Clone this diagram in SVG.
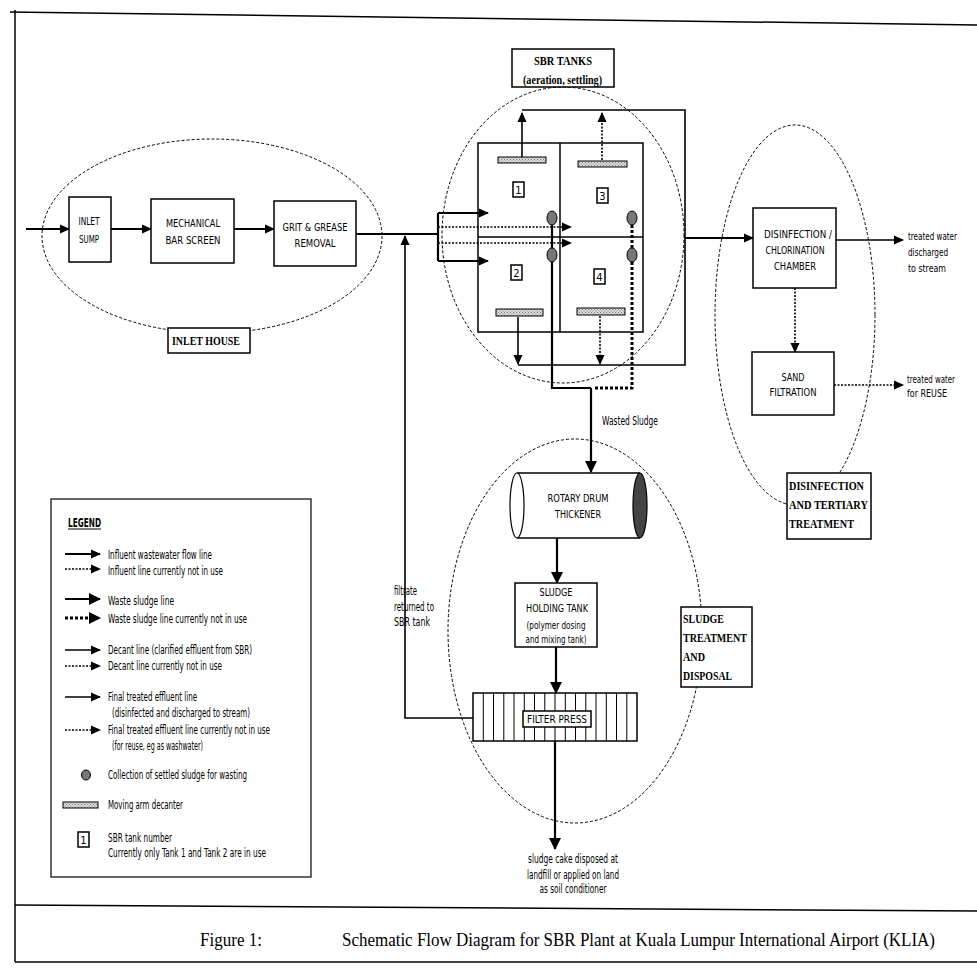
<svg xmlns="http://www.w3.org/2000/svg" width="977" height="980" viewBox="0 0 977 980">
<style>
.bg{fill:#fff}
.frame{fill:none;stroke:#000;stroke-width:1.5}
.box{fill:#fff;stroke:#000;stroke-width:1.5}
.zone{fill:none;stroke:#000;stroke-width:1;stroke-dasharray:3,2}
.s{font-family:"Liberation Sans Narrow","Arial Narrow","DejaVu Sans Condensed","Liberation Sans",sans-serif;font-stretch:condensed;font-size:11px;fill:#000}
.l{font-size:12px}
.r{font-size:10px}
.c{text-anchor:middle}
.b{font-family:"Liberation Serif","Times New Roman",serif;font-weight:bold;font-size:13px;fill:#000}
.cap{font-family:"Liberation Serif","Times New Roman",serif;font-size:18px;fill:#000}
.ln{fill:none;stroke:#000;stroke-width:1.6}
.th{fill:none;stroke:#000;stroke-width:2.2}
.dot{fill:none;stroke:#000;stroke-width:1.6;stroke-dasharray:2,1.5}
.dash{fill:none;stroke:#000;stroke-width:3;stroke-dasharray:3,2}
.dec{fill:url(#hatch);stroke:#000;stroke-width:1}
.col{fill:#777;stroke:#000;stroke-width:1}
</style>
<defs>
<marker id="a" markerUnits="userSpaceOnUse" markerWidth="10" markerHeight="10" refX="9" refY="5" orient="auto"><path d="M0,0.5 L10,5 L0,9.5 z" fill="#000"/></marker>
<marker id="ab" markerUnits="userSpaceOnUse" markerWidth="12" markerHeight="12" refX="11" refY="6" orient="auto"><path d="M0,0 L12,6 L0,12 z" fill="#000"/></marker>
<pattern id="hatch" width="3" height="3" patternUnits="userSpaceOnUse"><rect width="3" height="3" fill="#ddd"/><rect width="1" height="1" fill="#777"/><rect x="1.5" y="1.5" width="1" height="1" fill="#777"/></pattern>
</defs>
<rect class="bg" width="977" height="980"/>
<g id="frame">
<path class="frame" d="M10,12 L977,25"/>
<path class="frame" d="M15,10 L15,962"/>
<path class="frame" d="M15,905 L977,911"/>
<path class="frame" d="M15,962 L977,962"/>
</g>
<g id="zone-inlet">
<ellipse class="zone" cx="212" cy="236" rx="170" ry="97"/>
<rect class="box" x="168" y="328" width="82" height="25"/>
<text class="b" x="172" y="345" textLength="68" lengthAdjust="spacingAndGlyphs">INLET HOUSE</text>
</g>
<g id="zone-sbr">
<ellipse class="zone" cx="563" cy="235" rx="121" ry="148"/>
<rect class="box" x="512" y="49" width="102" height="38"/>
<text class="b" x="534" y="65" font-size="12" textLength="58" lengthAdjust="spacingAndGlyphs">SBR TANKS</text>
<text class="b" x="523" y="84" font-size="12" textLength="79" lengthAdjust="spacingAndGlyphs">(aeration, settling)</text>
</g>
<g id="zone-dis">
<ellipse class="zone" cx="795" cy="315" rx="80" ry="190"/>
<rect class="box" x="787" y="473" width="84" height="66"/>
<text class="b" x="789" y="490" textLength="75" lengthAdjust="spacingAndGlyphs">DISINFECTION</text>
<text class="b" x="789" y="509" textLength="79" lengthAdjust="spacingAndGlyphs">AND TERTIARY</text>
<text class="b" x="789" y="528" textLength="65" lengthAdjust="spacingAndGlyphs">TREATMENT</text>
</g>
<g id="zone-sludge">
<ellipse class="zone" cx="575" cy="631" rx="127" ry="192"/>
<rect class="box" x="681" y="607" width="71" height="80"/>
<text class="b" x="683" y="623" textLength="41" lengthAdjust="spacingAndGlyphs">SLUDGE</text>
<text class="b" x="683" y="642" textLength="64" lengthAdjust="spacingAndGlyphs">TREATMENT</text>
<text class="b" x="683" y="661" textLength="22" lengthAdjust="spacingAndGlyphs">AND</text>
<text class="b" x="683" y="680" textLength="49" lengthAdjust="spacingAndGlyphs">DISPOSAL</text>
</g>
<g id="connectors">
<line class="th" x1="26" y1="229" x2="69" y2="229" marker-end="url(#a)"/>
<line class="th" x1="111" y1="229" x2="151" y2="229" marker-end="url(#a)"/>
<line class="th" x1="234" y1="229" x2="274" y2="229" marker-end="url(#a)"/>
<line class="th" x1="356" y1="234" x2="438" y2="234"/>
<path class="th" d="M438,213 L438,261"/>
<line class="th" x1="438" y1="213" x2="488" y2="213" marker-end="url(#a)"/>
<line class="th" x1="438" y1="261" x2="488" y2="261" marker-end="url(#a)"/>
<line class="dot" x1="438" y1="227" x2="571" y2="227" marker-end="url(#a)"/>
<line class="dot" x1="438" y1="243" x2="571" y2="243" marker-end="url(#a)"/>
<path class="ln" d="M473,718 L405,718 L405,236" marker-end="url(#a)"/>
<line class="ln" x1="522" y1="157" x2="522" y2="113" marker-end="url(#a)"/>
<line class="dot" x1="602" y1="160" x2="602" y2="113" marker-end="url(#a)"/>
<path class="ln" d="M522,110 L685,110 L685,365 L518,365"/>
<line class="ln" x1="518" y1="317" x2="518" y2="364" marker-end="url(#a)"/>
<line class="dot" x1="600" y1="316" x2="600" y2="364" marker-end="url(#a)"/>
<line class="th" x1="685" y1="238" x2="753" y2="238" marker-end="url(#a)"/>
<line class="ln" x1="836" y1="240" x2="903" y2="240" marker-end="url(#a)"/>
<line class="dot" x1="795" y1="288" x2="795" y2="352" marker-end="url(#a)"/>
<line class="dot" x1="834" y1="385" x2="903" y2="385" marker-end="url(#a)"/>
<path class="th" d="M552,225 L552,248 M552,262 L552,388 L591,388"/>
<path class="dash" d="M632,225 L632,248 M632,262 L632,388 L593,388"/>
<line class="th" x1="591" y1="388" x2="591" y2="472" marker-end="url(#ab)"/>
<line class="th" x1="557" y1="538" x2="557" y2="583" marker-end="url(#ab)"/>
<line class="th" x1="556" y1="647" x2="556" y2="693" marker-end="url(#ab)"/>
<line class="th" x1="555" y1="741" x2="555" y2="849" marker-end="url(#ab)"/>
</g>
<g id="inlet-sump">
<rect class="box" x="69" y="197" width="42" height="65"/>
<text class="s c" x="89" y="225" textLength="21" lengthAdjust="spacingAndGlyphs">INLET</text>
<text class="s c" x="89" y="243" textLength="20" lengthAdjust="spacingAndGlyphs">SUMP</text>
</g>
<g id="bar-screen">
<rect class="box" x="151" y="199" width="83" height="64"/>
<text class="s c" x="193" y="227" textLength="54" lengthAdjust="spacingAndGlyphs">MECHANICAL</text>
<text class="s c" x="193" y="244" textLength="55" lengthAdjust="spacingAndGlyphs">BAR SCREEN</text>
</g>
<g id="grit">
<rect class="box" x="274" y="201" width="82" height="65"/>
<text class="s c" x="315" y="231" textLength="65" lengthAdjust="spacingAndGlyphs">GRIT &amp; GREASE</text>
<text class="s c" x="315" y="247" textLength="41" lengthAdjust="spacingAndGlyphs">REMOVAL</text>
</g>
<g id="sbr-tanks">
<rect fill="none" stroke="#000" stroke-width="1.5" x="478" y="143" width="165" height="189"/>
<line stroke="#000" stroke-width="1.5" x1="560" y1="143" x2="560" y2="332"/>
<line stroke="#000" stroke-width="1.5" x1="478" y1="237" x2="643" y2="237"/>
<rect class="dec" x="498" y="157" width="48" height="6"/>
<rect class="dec" x="578" y="161" width="49" height="6"/>
<rect class="dec" x="496" y="309" width="47" height="7"/>
<rect class="dec" x="577" y="308" width="48" height="7"/>
<rect class="box" x="513" y="182" width="11" height="15" stroke-width="1"/>
<text class="s c" x="518.5" y="194">1</text>
<rect class="box" x="597" y="188" width="11" height="15" stroke-width="1"/>
<text class="s c" x="602.5" y="200">3</text>
<rect class="box" x="511" y="265" width="11" height="15" stroke-width="1"/>
<text class="s c" x="516.5" y="277">2</text>
<rect class="box" x="594" y="269" width="11" height="15" stroke-width="1"/>
<text class="s c" x="599.5" y="281">4</text>
<ellipse class="col" cx="552" cy="218" rx="5" ry="7"/>
<ellipse class="col" cx="552" cy="255" rx="5" ry="7"/>
<ellipse class="col" cx="632" cy="218" rx="5" ry="7"/>
<ellipse class="col" cx="632" cy="255" rx="5" ry="7"/>
</g>
<g id="disinfection">
<rect class="box" x="753" y="208" width="83" height="80"/>
<text class="s c" x="798" y="238" textLength="68" lengthAdjust="spacingAndGlyphs">DISINFECTION /</text>
<text class="s c" x="795" y="254" textLength="59" lengthAdjust="spacingAndGlyphs">CHLORINATION</text>
<text class="s c" x="795" y="270" textLength="42" lengthAdjust="spacingAndGlyphs">CHAMBER</text>
</g>
<g id="sand">
<rect class="box" x="752" y="352" width="82" height="63"/>
<text class="s c" x="793" y="381" textLength="23" lengthAdjust="spacingAndGlyphs">SAND</text>
<text class="s c" x="793" y="396" textLength="47" lengthAdjust="spacingAndGlyphs">FILTRATION</text>
</g>
<g id="drum">
<path d="M517,473 L640,473 L640,538 L517,538 Z" fill="#fff" stroke="none"/>
<line stroke="#000" stroke-width="1.5" x1="517" y1="473" x2="640" y2="473"/>
<line stroke="#000" stroke-width="1.5" x1="517" y1="538" x2="640" y2="538"/>
<ellipse cx="517" cy="505.5" rx="7" ry="32.5" fill="#fff" stroke="#000" stroke-width="1.2"/>
<ellipse cx="640" cy="505.5" rx="7" ry="32.5" fill="#444" stroke="#000" stroke-width="1.2"/>
<text class="s c" x="578" y="502" textLength="61" lengthAdjust="spacingAndGlyphs">ROTARY DRUM</text>
<text class="s c" x="578" y="518" textLength="46" lengthAdjust="spacingAndGlyphs">THICKENER</text>
</g>
<g id="holding">
<rect class="box" x="515" y="583" width="82" height="64"/>
<text class="s c" x="556" y="596" textLength="33" lengthAdjust="spacingAndGlyphs">SLUDGE</text>
<text class="s c" x="557" y="612" textLength="62" lengthAdjust="spacingAndGlyphs">HOLDING TANK</text>
<text class="s c" x="556" y="629" textLength="59" lengthAdjust="spacingAndGlyphs">(polymer dosing</text>
<text class="s c" x="556" y="643" textLength="61" lengthAdjust="spacingAndGlyphs">and mixing tank)</text>
</g>
<g id="filter-press">
<rect class="box" x="473" y="693" width="164" height="48"/>
<path stroke="#000" stroke-width="1" d="M483.3,693V741 M493.5,693V741 M503.8,693V741 M514,693V741 M524.3,693V741 M534.5,693V741 M544.8,693V741 M555,693V741 M565.3,693V741 M575.5,693V741 M585.8,693V741 M596,693V741 M606.3,693V741 M616.5,693V741 M626.8,693V741"/>
<rect class="box" x="523" y="711" width="68" height="16" stroke-width="1.2"/>
<text class="s c" x="557" y="723" textLength="60" lengthAdjust="spacingAndGlyphs">FILTER PRESS</text>
</g>
<g id="labels">
<text class="s l" x="602" y="425" textLength="56" lengthAdjust="spacingAndGlyphs">Wasted Sludge</text>
<text class="s r" x="908" y="240" textLength="49" lengthAdjust="spacingAndGlyphs">treated water</text>
<text class="s r" x="908" y="256" textLength="40" lengthAdjust="spacingAndGlyphs">discharged</text>
<text class="s r" x="908" y="272" textLength="38" lengthAdjust="spacingAndGlyphs">to stream</text>
<text class="s r" x="907" y="383" textLength="48" lengthAdjust="spacingAndGlyphs">treated water</text>
<text class="s r" x="907" y="397" textLength="40" lengthAdjust="spacingAndGlyphs">for REUSE</text>
<text class="s l" x="394" y="595" textLength="23" lengthAdjust="spacingAndGlyphs">filtrate</text>
<text class="s l" x="394" y="611" textLength="40" lengthAdjust="spacingAndGlyphs">returned to</text>
<text class="s l" x="394" y="626" textLength="36" lengthAdjust="spacingAndGlyphs">SBR tank</text>
<text class="s l c" x="573" y="863" textLength="90" lengthAdjust="spacingAndGlyphs">sludge cake disposed at</text>
<text class="s l c" x="573" y="879" textLength="92" lengthAdjust="spacingAndGlyphs">landfill or applied on land</text>
<text class="s l c" x="573" y="893" textLength="67" lengthAdjust="spacingAndGlyphs">as soil conditioner</text>
</g>
<g id="legend">
<rect fill="none" stroke="#000" stroke-width="1.2" x="51" y="499" width="260" height="378"/>
<text class="s l" x="68" y="527" font-weight="bold" textLength="33" lengthAdjust="spacingAndGlyphs">LEGEND</text>
<line stroke="#000" stroke-width="1" x1="68" y1="529" x2="101" y2="529"/>
<line class="th" x1="65" y1="554" x2="100" y2="554" marker-end="url(#a)"/>
<text class="s l" x="108" y="559" textLength="104" lengthAdjust="spacingAndGlyphs">Influent wastewater flow line</text>
<line class="dot" x1="65" y1="569" x2="100" y2="569" marker-end="url(#a)"/>
<text class="s l" x="108" y="575" textLength="115" lengthAdjust="spacingAndGlyphs">Influent line currently not in use</text>
<line class="th" x1="65" y1="599" x2="100" y2="599" stroke-width="3" marker-end="url(#ab)"/>
<text class="s l" x="108" y="605" textLength="66" lengthAdjust="spacingAndGlyphs">Waste sludge line</text>
<line class="dash" x1="65" y1="618" x2="100" y2="618" marker-end="url(#ab)"/>
<text class="s l" x="108" y="623" textLength="139" lengthAdjust="spacingAndGlyphs">Waste sludge line currently not in use</text>
<line class="ln" x1="65" y1="650" x2="100" y2="650" marker-end="url(#a)"/>
<text class="s l" x="108" y="654" textLength="144" lengthAdjust="spacingAndGlyphs">Decant line (clarified effluent from SBR)</text>
<line class="dot" x1="65" y1="666" x2="100" y2="666" marker-end="url(#a)"/>
<text class="s l" x="108" y="670" textLength="114" lengthAdjust="spacingAndGlyphs">Decant line currently not in use</text>
<line class="ln" x1="65" y1="697" x2="100" y2="697" stroke-width="1.2" marker-end="url(#a)"/>
<text class="s l" x="108" y="701" textLength="89" lengthAdjust="spacingAndGlyphs">Final treated effluent line</text>
<text class="s l" x="112" y="717" textLength="138" lengthAdjust="spacingAndGlyphs">(disinfected and discharged to stream)</text>
<line class="dot" x1="65" y1="730" x2="100" y2="730" stroke-width="1.2" marker-end="url(#a)"/>
<text class="s l" x="108" y="734" textLength="162" lengthAdjust="spacingAndGlyphs">Final treated effluent line currently not in use</text>
<text class="s l" x="112" y="750" textLength="91" lengthAdjust="spacingAndGlyphs">(for reuse, eg as washwater)</text>
<ellipse class="col" cx="86" cy="775" rx="4.5" ry="5"/>
<text class="s l" x="108" y="779" textLength="139" lengthAdjust="spacingAndGlyphs">Collection of settled sludge for wasting</text>
<rect class="dec" x="63" y="802" width="35" height="6"/>
<text class="s l" x="108" y="809" textLength="75" lengthAdjust="spacingAndGlyphs">Moving arm decanter</text>
<rect class="box" x="78" y="832" width="11" height="15" stroke-width="1"/>
<text class="s c" x="83.5" y="844">1</text>
<text class="s l" x="108" y="842" textLength="64" lengthAdjust="spacingAndGlyphs">SBR tank number</text>
<text class="s l" x="108" y="857" textLength="158" lengthAdjust="spacingAndGlyphs">Currently only Tank 1 and Tank 2 are in use</text>
</g>
<g id="caption">
<text class="cap" x="200" y="946" textLength="62" lengthAdjust="spacingAndGlyphs">Figure 1:</text>
<text class="cap" x="342" y="946" textLength="593" lengthAdjust="spacingAndGlyphs">Schematic Flow Diagram for SBR Plant at Kuala Lumpur International Airport (KLIA)</text>
</g>
</svg>
